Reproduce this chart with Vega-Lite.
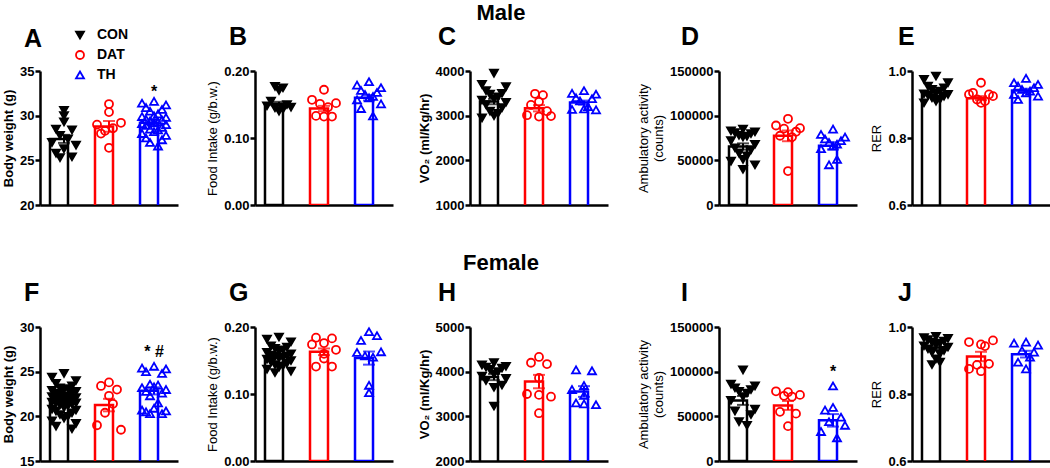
{
"$schema":"https://vega.github.io/schema/vega-lite/v6.json",
"padding":{"left":2,"top":2,"right":0,"bottom":0},
"background":"white",
"config":{
 "font":"Liberation Sans",
 "view":{"stroke":null},
 "range":{"category":["black","red","blue"],"symbol":["triangle-down","circle","triangle-up"]},
 "axis":{"grid":false,"domainColor":"black","domainWidth":2.5,"labelColor":"black","titleColor":"black","labelFont":"Liberation Sans","titleFont":"Liberation Sans"},
 "axisX":{"labels":false,"ticks":false},
 "axisY":{"tickColor":"black","tickWidth":2.5,"tickSize":5,"labelFontWeight":"bold","labelFontSize":13,"titleFontSize":13,"titleFontWeight":"normal","titlePadding":4,"labelPadding":1},
 "title":{"font":"Liberation Sans","fontWeight":"bold","color":"black","anchor":"start","frame":"group","fontSize":25,"offset":15}
},
"datasets":{
"sum":[
{"p":"A","g":"CON","v":27.4,"e":0.45},{"p":"A","g":"DAT","v":28.8,"e":0.6},{"p":"A","g":"TH","v":29.2,"e":0.3},
{"p":"B","g":"CON","v":0.151,"e":0.003},{"p":"B","g":"DAT","v":0.144,"e":0.004},{"p":"B","g":"TH","v":0.160,"e":0.004},
{"p":"C","g":"CON","v":3315,"e":60},{"p":"C","g":"DAT","v":3166,"e":70},{"p":"C","g":"TH","v":3293,"e":45},
{"p":"D","g":"CON","v":65500,"e":3500},{"p":"D","g":"DAT","v":77400,"e":6000},{"p":"D","g":"TH","v":66250,"e":4000},
{"p":"E","g":"CON","v":0.938,"e":0.005},{"p":"E","g":"DAT","v":0.919,"e":0.006},{"p":"E","g":"TH","v":0.942,"e":0.005},
{"p":"F","g":"CON","v":21.85,"e":0.22},{"p":"F","g":"DAT","v":21.26,"e":0.7},{"p":"F","g":"TH","v":22.85,"e":0.4},
{"p":"G","g":"CON","v":0.1556,"e":0.0025},{"p":"G","g":"DAT","v":0.163,"e":0.005},{"p":"G","g":"TH","v":0.1536,"e":0.0098},
{"p":"H","g":"CON","v":3880,"e":70},{"p":"H","g":"DAT","v":3778,"e":150},{"p":"H","g":"TH","v":3556,"e":120},
{"p":"I","g":"CON","v":67800,"e":5000},{"p":"I","g":"DAT","v":62200,"e":5000},{"p":"I","g":"TH","v":45500,"e":7000},
{"p":"J","g":"CON","v":0.939,"e":0.006},{"p":"J","g":"DAT","v":0.912,"e":0.014},{"p":"J","g":"TH","v":0.919,"e":0.01}
],
"sig":[
{"p":"A","g":"TH","v":32.05,"t":"*"},{"p":"F","g":"TH","v":26.6,"t":"* #"},{"p":"I","g":"TH","v":94100,"t":"*"}
],
"pts":[
{"p":"A","g":"CON","v":30.6,"s":3},{"p":"A","g":"CON","v":30.0,"s":3},{"p":"A","g":"CON","v":29.3,"s":3},{"p":"A","g":"CON","v":28.5,"s":1},{"p":"A","g":"CON","v":28.4,"s":5},{"p":"A","g":"CON","v":27.8,"s":2},{"p":"A","g":"CON","v":27.4,"s":4},{"p":"A","g":"CON","v":27.0,"s":0},{"p":"A","g":"CON","v":26.7,"s":6},{"p":"A","g":"CON","v":26.3,"s":3},{"p":"A","g":"CON","v":25.8,"s":1},{"p":"A","g":"CON","v":25.4,"s":5},{"p":"A","g":"CON","v":25.3,"s":2},
{"p":"A","g":"DAT","v":31.3,"s":3},{"p":"A","g":"DAT","v":30.4,"s":3},{"p":"A","g":"DAT","v":29.2,"s":6},{"p":"A","g":"DAT","v":29.0,"s":0},{"p":"A","g":"DAT","v":28.6,"s":4},{"p":"A","g":"DAT","v":28.3,"s":2},{"p":"A","g":"DAT","v":28.0,"s":1},{"p":"A","g":"DAT","v":26.4,"s":3},
{"p":"A","g":"TH","v":31.6,"s":3},{"p":"A","g":"TH","v":31.4,"s":0},{"p":"A","g":"TH","v":31.2,"s":6},{"p":"A","g":"TH","v":30.9,"s":1},{"p":"A","g":"TH","v":30.7,"s":5},{"p":"A","g":"TH","v":30.5,"s":2},{"p":"A","g":"TH","v":30.2,"s":4},{"p":"A","g":"TH","v":30.0,"s":3},{"p":"A","g":"TH","v":29.9,"s":0},{"p":"A","g":"TH","v":29.8,"s":6},{"p":"A","g":"TH","v":29.6,"s":1},{"p":"A","g":"TH","v":29.5,"s":5},{"p":"A","g":"TH","v":29.4,"s":2},{"p":"A","g":"TH","v":29.3,"s":4},{"p":"A","g":"TH","v":29.2,"s":3},{"p":"A","g":"TH","v":29.1,"s":0},{"p":"A","g":"TH","v":29.0,"s":6},{"p":"A","g":"TH","v":28.9,"s":1},{"p":"A","g":"TH","v":28.7,"s":5},{"p":"A","g":"TH","v":28.5,"s":2},{"p":"A","g":"TH","v":28.4,"s":4},{"p":"A","g":"TH","v":28.2,"s":3},{"p":"A","g":"TH","v":28.0,"s":0},{"p":"A","g":"TH","v":27.8,"s":6},{"p":"A","g":"TH","v":27.5,"s":1},{"p":"A","g":"TH","v":27.3,"s":5},{"p":"A","g":"TH","v":27.0,"s":2},{"p":"A","g":"TH","v":26.6,"s":4},
{"p":"B","g":"CON","v":0.177,"s":2},{"p":"B","g":"CON","v":0.175,"s":4},{"p":"B","g":"CON","v":0.171,"s":3},{"p":"B","g":"CON","v":0.155,"s":1},{"p":"B","g":"CON","v":0.150,"s":5},{"p":"B","g":"CON","v":0.148,"s":0},{"p":"B","g":"CON","v":0.146,"s":6},{"p":"B","g":"CON","v":0.145,"s":2},{"p":"B","g":"CON","v":0.143,"s":4},{"p":"B","g":"CON","v":0.140,"s":3},
{"p":"B","g":"DAT","v":0.172,"s":3},{"p":"B","g":"DAT","v":0.157,"s":0},{"p":"B","g":"DAT","v":0.152,"s":6},{"p":"B","g":"DAT","v":0.151,"s":2},{"p":"B","g":"DAT","v":0.146,"s":4},{"p":"B","g":"DAT","v":0.133,"s":1},{"p":"B","g":"DAT","v":0.132,"s":5},{"p":"B","g":"DAT","v":0.132,"s":3},
{"p":"B","g":"TH","v":0.184,"s":3},{"p":"B","g":"TH","v":0.179,"s":0},{"p":"B","g":"TH","v":0.175,"s":6},{"p":"B","g":"TH","v":0.171,"s":1},{"p":"B","g":"TH","v":0.168,"s":5},{"p":"B","g":"TH","v":0.165,"s":2},{"p":"B","g":"TH","v":0.162,"s":4},{"p":"B","g":"TH","v":0.160,"s":3},{"p":"B","g":"TH","v":0.157,"s":0},{"p":"B","g":"TH","v":0.151,"s":6},{"p":"B","g":"TH","v":0.144,"s":1},{"p":"B","g":"TH","v":0.133,"s":4},
{"p":"C","g":"CON","v":3950,"s":3},{"p":"C","g":"CON","v":3700,"s":0},{"p":"C","g":"CON","v":3650,"s":6},{"p":"C","g":"CON","v":3560,"s":1},{"p":"C","g":"CON","v":3500,"s":5},{"p":"C","g":"CON","v":3480,"s":2},{"p":"C","g":"CON","v":3420,"s":4},{"p":"C","g":"CON","v":3380,"s":3},{"p":"C","g":"CON","v":3350,"s":0},{"p":"C","g":"CON","v":3300,"s":6},{"p":"C","g":"CON","v":3250,"s":1},{"p":"C","g":"CON","v":3180,"s":5},{"p":"C","g":"CON","v":3100,"s":2},{"p":"C","g":"CON","v":3050,"s":4},{"p":"C","g":"CON","v":3000,"s":3},{"p":"C","g":"CON","v":2950,"s":0},
{"p":"C","g":"DAT","v":3490,"s":2},{"p":"C","g":"DAT","v":3460,"s":4},{"p":"C","g":"DAT","v":3310,"s":3},{"p":"C","g":"DAT","v":3240,"s":1},{"p":"C","g":"DAT","v":3100,"s":5},{"p":"C","g":"DAT","v":3010,"s":0},{"p":"C","g":"DAT","v":2990,"s":6},{"p":"C","g":"DAT","v":2980,"s":3},
{"p":"C","g":"TH","v":3560,"s":3},{"p":"C","g":"TH","v":3500,"s":0},{"p":"C","g":"TH","v":3480,"s":6},{"p":"C","g":"TH","v":3400,"s":1},{"p":"C","g":"TH","v":3380,"s":5},{"p":"C","g":"TH","v":3330,"s":2},{"p":"C","g":"TH","v":3200,"s":4},{"p":"C","g":"TH","v":3150,"s":3},{"p":"C","g":"TH","v":3140,"s":0},{"p":"C","g":"TH","v":3130,"s":6},
{"p":"D","g":"CON","v":85000,"s":3},{"p":"D","g":"CON","v":83000,"s":0},{"p":"D","g":"CON","v":82000,"s":6},{"p":"D","g":"CON","v":81000,"s":1},{"p":"D","g":"CON","v":80000,"s":5},{"p":"D","g":"CON","v":78000,"s":2},{"p":"D","g":"CON","v":77000,"s":4},{"p":"D","g":"CON","v":76000,"s":3},{"p":"D","g":"CON","v":72000,"s":0},{"p":"D","g":"CON","v":68000,"s":6},{"p":"D","g":"CON","v":64000,"s":1},{"p":"D","g":"CON","v":62000,"s":5},{"p":"D","g":"CON","v":58000,"s":2},{"p":"D","g":"CON","v":55000,"s":4},{"p":"D","g":"CON","v":51000,"s":3},{"p":"D","g":"CON","v":49000,"s":0},{"p":"D","g":"CON","v":45000,"s":6},{"p":"D","g":"CON","v":40000,"s":3},
{"p":"D","g":"DAT","v":96500,"s":3},{"p":"D","g":"DAT","v":89000,"s":0},{"p":"D","g":"DAT","v":86000,"s":6},{"p":"D","g":"DAT","v":85500,"s":2},{"p":"D","g":"DAT","v":82000,"s":5},{"p":"D","g":"DAT","v":77500,"s":1},{"p":"D","g":"DAT","v":76000,"s":4},{"p":"D","g":"DAT","v":38000,"s":3},
{"p":"D","g":"TH","v":85000,"s":3},{"p":"D","g":"TH","v":79000,"s":0},{"p":"D","g":"TH","v":76000,"s":6},{"p":"D","g":"TH","v":74000,"s":1},{"p":"D","g":"TH","v":72000,"s":5},{"p":"D","g":"TH","v":70000,"s":2},{"p":"D","g":"TH","v":68000,"s":4},{"p":"D","g":"TH","v":66000,"s":3},{"p":"D","g":"TH","v":63000,"s":0},{"p":"D","g":"TH","v":51000,"s":4},{"p":"D","g":"TH","v":45000,"s":2},
{"p":"E","g":"CON","v":0.985,"s":3},{"p":"E","g":"CON","v":0.975,"s":0},{"p":"E","g":"CON","v":0.965,"s":6},{"p":"E","g":"CON","v":0.955,"s":1},{"p":"E","g":"CON","v":0.95,"s":5},{"p":"E","g":"CON","v":0.945,"s":2},{"p":"E","g":"CON","v":0.94,"s":4},{"p":"E","g":"CON","v":0.935,"s":3},{"p":"E","g":"CON","v":0.932,"s":0},{"p":"E","g":"CON","v":0.93,"s":6},{"p":"E","g":"CON","v":0.928,"s":1},{"p":"E","g":"CON","v":0.925,"s":5},{"p":"E","g":"CON","v":0.92,"s":2},{"p":"E","g":"CON","v":0.915,"s":4},{"p":"E","g":"CON","v":0.91,"s":3},{"p":"E","g":"CON","v":0.905,"s":0},
{"p":"E","g":"DAT","v":0.965,"s":3},{"p":"E","g":"DAT","v":0.935,"s":1},{"p":"E","g":"DAT","v":0.93,"s":5},{"p":"E","g":"DAT","v":0.93,"s":0},{"p":"E","g":"DAT","v":0.925,"s":6},{"p":"E","g":"DAT","v":0.915,"s":2},{"p":"E","g":"DAT","v":0.91,"s":4},{"p":"E","g":"DAT","v":0.905,"s":3},
{"p":"E","g":"TH","v":0.978,"s":3},{"p":"E","g":"TH","v":0.965,"s":0},{"p":"E","g":"TH","v":0.96,"s":6},{"p":"E","g":"TH","v":0.955,"s":1},{"p":"E","g":"TH","v":0.95,"s":5},{"p":"E","g":"TH","v":0.945,"s":2},{"p":"E","g":"TH","v":0.94,"s":4},{"p":"E","g":"TH","v":0.935,"s":3},{"p":"E","g":"TH","v":0.93,"s":0},{"p":"E","g":"TH","v":0.925,"s":6},{"p":"E","g":"TH","v":0.915,"s":1},
{"p":"F","g":"CON","v":24.8,"s":3},{"p":"F","g":"CON","v":24.4,"s":0},{"p":"F","g":"CON","v":24.0,"s":6},{"p":"F","g":"CON","v":23.7,"s":1},{"p":"F","g":"CON","v":23.4,"s":5},{"p":"F","g":"CON","v":23.2,"s":2},{"p":"F","g":"CON","v":23.1,"s":4},{"p":"F","g":"CON","v":23.0,"s":3},{"p":"F","g":"CON","v":22.9,"s":0},{"p":"F","g":"CON","v":22.8,"s":6},{"p":"F","g":"CON","v":22.6,"s":1},{"p":"F","g":"CON","v":22.6,"s":5},{"p":"F","g":"CON","v":22.5,"s":2},{"p":"F","g":"CON","v":22.3,"s":4},{"p":"F","g":"CON","v":22.2,"s":3},{"p":"F","g":"CON","v":22.2,"s":0},{"p":"F","g":"CON","v":22.1,"s":6},{"p":"F","g":"CON","v":22.0,"s":1},{"p":"F","g":"CON","v":21.9,"s":5},{"p":"F","g":"CON","v":21.9,"s":2},{"p":"F","g":"CON","v":21.8,"s":4},{"p":"F","g":"CON","v":21.7,"s":3},{"p":"F","g":"CON","v":21.6,"s":0},{"p":"F","g":"CON","v":21.5,"s":6},{"p":"F","g":"CON","v":21.5,"s":1},{"p":"F","g":"CON","v":21.4,"s":5},{"p":"F","g":"CON","v":21.3,"s":2},{"p":"F","g":"CON","v":21.2,"s":4},{"p":"F","g":"CON","v":21.0,"s":3},{"p":"F","g":"CON","v":20.8,"s":0},{"p":"F","g":"CON","v":20.7,"s":6},{"p":"F","g":"CON","v":20.6,"s":1},{"p":"F","g":"CON","v":20.4,"s":5},{"p":"F","g":"CON","v":20.2,"s":2},{"p":"F","g":"CON","v":20.0,"s":4},{"p":"F","g":"CON","v":19.8,"s":3},{"p":"F","g":"CON","v":19.5,"s":0},{"p":"F","g":"CON","v":19.2,"s":6},{"p":"F","g":"CON","v":18.9,"s":1},{"p":"F","g":"CON","v":18.6,"s":5},
{"p":"F","g":"DAT","v":23.8,"s":3},{"p":"F","g":"DAT","v":23.4,"s":1},{"p":"F","g":"DAT","v":23.0,"s":5},{"p":"F","g":"DAT","v":22.3,"s":3},{"p":"F","g":"DAT","v":21.4,"s":4},{"p":"F","g":"DAT","v":20.4,"s":2},{"p":"F","g":"DAT","v":19.0,"s":0},{"p":"F","g":"DAT","v":18.5,"s":6},
{"p":"F","g":"TH","v":25.6,"s":3},{"p":"F","g":"TH","v":25.4,"s":0},{"p":"F","g":"TH","v":25.3,"s":6},{"p":"F","g":"TH","v":25.0,"s":1},{"p":"F","g":"TH","v":24.8,"s":5},{"p":"F","g":"TH","v":23.6,"s":2},{"p":"F","g":"TH","v":23.5,"s":4},{"p":"F","g":"TH","v":23.3,"s":3},{"p":"F","g":"TH","v":23.2,"s":0},{"p":"F","g":"TH","v":23.0,"s":6},{"p":"F","g":"TH","v":22.8,"s":1},{"p":"F","g":"TH","v":22.6,"s":5},{"p":"F","g":"TH","v":22.3,"s":2},{"p":"F","g":"TH","v":21.5,"s":4},{"p":"F","g":"TH","v":20.9,"s":3},{"p":"F","g":"TH","v":20.7,"s":0},{"p":"F","g":"TH","v":20.6,"s":6},{"p":"F","g":"TH","v":20.5,"s":1},{"p":"F","g":"TH","v":20.3,"s":5},{"p":"F","g":"TH","v":20.3,"s":2},
{"p":"G","g":"CON","v":0.185,"s":3},{"p":"G","g":"CON","v":0.182,"s":0},{"p":"G","g":"CON","v":0.178,"s":6},{"p":"G","g":"CON","v":0.172,"s":1},{"p":"G","g":"CON","v":0.170,"s":5},{"p":"G","g":"CON","v":0.168,"s":2},{"p":"G","g":"CON","v":0.166,"s":4},{"p":"G","g":"CON","v":0.164,"s":3},{"p":"G","g":"CON","v":0.162,"s":0},{"p":"G","g":"CON","v":0.160,"s":6},{"p":"G","g":"CON","v":0.158,"s":1},{"p":"G","g":"CON","v":0.157,"s":5},{"p":"G","g":"CON","v":0.156,"s":2},{"p":"G","g":"CON","v":0.155,"s":4},{"p":"G","g":"CON","v":0.154,"s":3},{"p":"G","g":"CON","v":0.152,"s":0},{"p":"G","g":"CON","v":0.150,"s":6},{"p":"G","g":"CON","v":0.148,"s":1},{"p":"G","g":"CON","v":0.146,"s":5},{"p":"G","g":"CON","v":0.144,"s":2},{"p":"G","g":"CON","v":0.142,"s":4},{"p":"G","g":"CON","v":0.140,"s":3},{"p":"G","g":"CON","v":0.137,"s":0},{"p":"G","g":"CON","v":0.134,"s":6},{"p":"G","g":"CON","v":0.132,"s":2},
{"p":"G","g":"DAT","v":0.184,"s":1},{"p":"G","g":"DAT","v":0.183,"s":5},{"p":"G","g":"DAT","v":0.176,"s":3},{"p":"G","g":"DAT","v":0.174,"s":0},{"p":"G","g":"DAT","v":0.166,"s":6},{"p":"G","g":"DAT","v":0.160,"s":3},{"p":"G","g":"DAT","v":0.153,"s":3},{"p":"G","g":"DAT","v":0.141,"s":1},{"p":"G","g":"DAT","v":0.141,"s":5},
{"p":"G","g":"TH","v":0.193,"s":3},{"p":"G","g":"TH","v":0.187,"s":5},{"p":"G","g":"TH","v":0.180,"s":1},{"p":"G","g":"TH","v":0.163,"s":6},{"p":"G","g":"TH","v":0.162,"s":0},{"p":"G","g":"TH","v":0.157,"s":2},{"p":"G","g":"TH","v":0.155,"s":4},{"p":"G","g":"TH","v":0.113,"s":3},{"p":"G","g":"TH","v":0.102,"s":3},
{"p":"H","g":"CON","v":4200,"s":3},{"p":"H","g":"CON","v":4150,"s":0},{"p":"H","g":"CON","v":4120,"s":6},{"p":"H","g":"CON","v":4100,"s":1},{"p":"H","g":"CON","v":4080,"s":5},{"p":"H","g":"CON","v":4050,"s":2},{"p":"H","g":"CON","v":4000,"s":4},{"p":"H","g":"CON","v":3950,"s":3},{"p":"H","g":"CON","v":3900,"s":0},{"p":"H","g":"CON","v":3850,"s":6},{"p":"H","g":"CON","v":3800,"s":1},{"p":"H","g":"CON","v":3700,"s":5},{"p":"H","g":"CON","v":3650,"s":3},{"p":"H","g":"CON","v":3230,"s":3},
{"p":"H","g":"DAT","v":4330,"s":3},{"p":"H","g":"DAT","v":4200,"s":1},{"p":"H","g":"DAT","v":4170,"s":5},{"p":"H","g":"DAT","v":3860,"s":3},{"p":"H","g":"DAT","v":3500,"s":0},{"p":"H","g":"DAT","v":3480,"s":3},{"p":"H","g":"DAT","v":3440,"s":6},{"p":"H","g":"DAT","v":3070,"s":3},
{"p":"H","g":"TH","v":4040,"s":1},{"p":"H","g":"TH","v":4020,"s":5},{"p":"H","g":"TH","v":3690,"s":3},{"p":"H","g":"TH","v":3600,"s":0},{"p":"H","g":"TH","v":3470,"s":3},{"p":"H","g":"TH","v":3300,"s":1},{"p":"H","g":"TH","v":3280,"s":3},{"p":"H","g":"TH","v":3260,"s":6},
{"p":"I","g":"CON","v":102000,"s":3},{"p":"I","g":"CON","v":86000,"s":0},{"p":"I","g":"CON","v":84000,"s":6},{"p":"I","g":"CON","v":82000,"s":1},{"p":"I","g":"CON","v":80000,"s":5},{"p":"I","g":"CON","v":78000,"s":2},{"p":"I","g":"CON","v":76000,"s":4},{"p":"I","g":"CON","v":72000,"s":3},{"p":"I","g":"CON","v":68000,"s":0},{"p":"I","g":"CON","v":58000,"s":6},{"p":"I","g":"CON","v":56000,"s":1},{"p":"I","g":"CON","v":52000,"s":5},{"p":"I","g":"CON","v":44000,"s":2},{"p":"I","g":"CON","v":40000,"s":4},
{"p":"I","g":"DAT","v":78000,"s":0},{"p":"I","g":"DAT","v":77000,"s":3},{"p":"I","g":"DAT","v":74000,"s":6},{"p":"I","g":"DAT","v":73000,"s":2},{"p":"I","g":"DAT","v":72000,"s":4},{"p":"I","g":"DAT","v":55000,"s":1},{"p":"I","g":"DAT","v":53000,"s":5},{"p":"I","g":"DAT","v":39000,"s":3},
{"p":"I","g":"TH","v":84000,"s":3},{"p":"I","g":"TH","v":60000,"s":3},{"p":"I","g":"TH","v":57000,"s":1},{"p":"I","g":"TH","v":49000,"s":5},{"p":"I","g":"TH","v":44000,"s":2},{"p":"I","g":"TH","v":40000,"s":6},{"p":"I","g":"TH","v":33000,"s":0},{"p":"I","g":"TH","v":26000,"s":4},
{"p":"J","g":"CON","v":0.972,"s":3},{"p":"J","g":"CON","v":0.968,"s":0},{"p":"J","g":"CON","v":0.966,"s":6},{"p":"J","g":"CON","v":0.962,"s":1},{"p":"J","g":"CON","v":0.958,"s":5},{"p":"J","g":"CON","v":0.955,"s":2},{"p":"J","g":"CON","v":0.952,"s":4},{"p":"J","g":"CON","v":0.948,"s":3},{"p":"J","g":"CON","v":0.944,"s":0},{"p":"J","g":"CON","v":0.94,"s":6},{"p":"J","g":"CON","v":0.935,"s":1},{"p":"J","g":"CON","v":0.93,"s":5},{"p":"J","g":"CON","v":0.925,"s":2},{"p":"J","g":"CON","v":0.92,"s":4},{"p":"J","g":"CON","v":0.905,"s":3},{"p":"J","g":"CON","v":0.895,"s":4},{"p":"J","g":"CON","v":0.888,"s":2},
{"p":"J","g":"DAT","v":0.96,"s":6},{"p":"J","g":"DAT","v":0.955,"s":0},{"p":"J","g":"DAT","v":0.948,"s":3},{"p":"J","g":"DAT","v":0.943,"s":4},{"p":"J","g":"DAT","v":0.89,"s":5},{"p":"J","g":"DAT","v":0.887,"s":2},{"p":"J","g":"DAT","v":0.875,"s":0},{"p":"J","g":"DAT","v":0.868,"s":3},
{"p":"J","g":"TH","v":0.955,"s":3},{"p":"J","g":"TH","v":0.952,"s":0},{"p":"J","g":"TH","v":0.946,"s":6},{"p":"J","g":"TH","v":0.93,"s":2},{"p":"J","g":"TH","v":0.925,"s":5},{"p":"J","g":"TH","v":0.91,"s":4},{"p":"J","g":"TH","v":0.895,"s":1},{"p":"J","g":"TH","v":0.875,"s":3}
]
},
"spacing":40,
"resolve":{"scale":{"x":"independent","y":"independent","color":"independent","stroke":"independent","fill":"independent","shape":"independent"},"legend":{"color":"independent","stroke":"independent","fill":"independent","shape":"independent"}},
"vconcat":[
{"title":{"text":"Male","anchor":"middle","fontSize":22,"dx":461,"offset":0},
 "bounds":"flush","spacing":0,
 "resolve":{"scale":{"x":"independent","y":"independent","color":"independent","stroke":"independent","fill":"independent","shape":"independent"},"legend":{"color":"independent","stroke":"independent","fill":"independent","shape":"independent"}},
 "hconcat":[
  {"width":215,"height":134,"title":{"text":"A","dx":-16,"offset":-24},
   "encoding":{"x":{"field":"g","type":"nominal","title":null,"scale":{"domain":["CON","DAT","TH"],"range":[0,138],"paddingInner":0.378,"paddingOuter":0.222}}},
   "layer":[
    {"data":{"name":"sum"},"transform":[{"filter":"datum.p==='A'"}],"mark":{"type":"bar","filled":false,"strokeWidth":2.5,"clip":true},
     "encoding":{"y":{"field":"v","type":"quantitative","title":"Body weight (g)","scale":{"domain":[20,35],"nice":false,"zero":false},"axis":{"values":[20,25,30,35],"format":"d","titleFontWeight":"bold"}},"color":{"field":"g","type":"nominal","legend":null}}},
    {"data":{"name":"sum"},"transform":[{"filter":"datum.p==='A'"}],"mark":{"type":"errorbar","ticks":{"size":12},"thickness":2},
     "encoding":{"y":{"field":"v","type":"quantitative","title":"Body weight (g)"},"yError":{"field":"e"},"color":{"field":"g","type":"nominal","legend":null}}},
    {"data":{"name":"pts"},"transform":[{"filter":"datum.p==='A'"}],"mark":{"type":"point","size":64,"strokeWidth":1.8,"opacity":1},
     "encoding":{"y":{"field":"v","type":"quantitative","title":"Body weight (g)"},"xOffset":{"field":"s","type":"nominal","scale":{"domain":[0,1,2,3,4,5,6]}},
      "stroke":{"field":"g","type":"nominal","legend":{"orient":"none","legendX":33,"legendY":-43,"title":null,"labelFontSize":14,"labelFontWeight":"bold","labelColor":"black","labelFont":"Liberation Sans","symbolSize":64,"symbolStrokeWidth":1.8,"rowPadding":4,"labelOffset":10}},
      "fill":{"field":"g","type":"nominal","scale":{"range":["black","transparent","transparent"]},"legend":{"orient":"none","legendX":33,"legendY":-43,"title":null,"labelFontSize":14,"labelFontWeight":"bold","labelColor":"black","labelFont":"Liberation Sans","symbolSize":64,"symbolStrokeWidth":1.8,"rowPadding":4,"labelOffset":10}},
      "shape":{"field":"g","type":"nominal","legend":{"orient":"none","legendX":33,"legendY":-43,"title":null,"labelFontSize":14,"labelFontWeight":"bold","labelColor":"black","labelFont":"Liberation Sans","symbolSize":64,"symbolStrokeWidth":1.8,"rowPadding":4,"labelOffset":10}}}},
    {"data":{"name":"sig"},"transform":[{"filter":"datum.p==='A'"}],"mark":{"type":"text","fontSize":16,"fontWeight":"bold","baseline":"alphabetic"},
     "encoding":{"y":{"field":"v","type":"quantitative","title":"Body weight (g)"},"text":{"field":"t"}}}
   ]},
  {"width":215,"height":134,"title":{"text":"B","dx":-26},
   "encoding":{"x":{"field":"g","type":"nominal","title":null,"scale":{"domain":["CON","DAT","TH"],"range":[0,138],"paddingInner":0.378,"paddingOuter":0.222}}},
   "layer":[
    {"data":{"name":"sum"},"transform":[{"filter":"datum.p==='B'"}],"mark":{"type":"bar","filled":false,"strokeWidth":2.5,"clip":true},
     "encoding":{"y":{"field":"v","type":"quantitative","title":"Food Intake (g/b.w.)","scale":{"domain":[0,0.2],"nice":false},"axis":{"values":[0,0.05,0.1,0.15,0.2],"format":".2f"}},"color":{"field":"g","type":"nominal","legend":null}}},
    {"data":{"name":"sum"},"transform":[{"filter":"datum.p==='B'"}],"mark":{"type":"errorbar","ticks":{"size":12},"thickness":2},
     "encoding":{"y":{"field":"v","type":"quantitative","title":"Food Intake (g/b.w.)"},"yError":{"field":"e"},"color":{"field":"g","type":"nominal","legend":null}}},
    {"data":{"name":"pts"},"transform":[{"filter":"datum.p==='B'"}],"mark":{"type":"point","size":64,"strokeWidth":1.8,"opacity":1},
     "encoding":{"y":{"field":"v","type":"quantitative","title":"Food Intake (g/b.w.)"},"xOffset":{"field":"s","type":"nominal","scale":{"domain":[0,1,2,3,4,5,6]}},
      "stroke":{"field":"g","type":"nominal","legend":null},"fill":{"field":"g","type":"nominal","scale":{"range":["black","transparent","transparent"]},"legend":null},"shape":{"field":"g","type":"nominal","legend":null}}}
   ]},
  {"width":249,"height":134,"title":{"text":"C","dx":-32},
   "encoding":{"x":{"field":"g","type":"nominal","title":null,"scale":{"domain":["CON","DAT","TH"],"range":[0,138],"paddingInner":0.378,"paddingOuter":0.222}}},
   "layer":[
    {"data":{"name":"sum"},"transform":[{"filter":"datum.p==='C'"}],"mark":{"type":"bar","filled":false,"strokeWidth":2.5,"clip":true},
     "encoding":{"y":{"field":"v","type":"quantitative","title":"VO₂ (ml/Kg/hr)","scale":{"domain":[1000,4000],"nice":false,"zero":false},"axis":{"values":[1000,2000,3000,4000],"format":"d","titleFontWeight":"bold"}},"color":{"field":"g","type":"nominal","legend":null}}},
    {"data":{"name":"sum"},"transform":[{"filter":"datum.p==='C'"}],"mark":{"type":"errorbar","ticks":{"size":12},"thickness":2},
     "encoding":{"y":{"field":"v","type":"quantitative","title":"VO₂ (ml/Kg/hr)"},"yError":{"field":"e"},"color":{"field":"g","type":"nominal","legend":null}}},
    {"data":{"name":"pts"},"transform":[{"filter":"datum.p==='C'"}],"mark":{"type":"point","size":64,"strokeWidth":1.8,"opacity":1},
     "encoding":{"y":{"field":"v","type":"quantitative","title":"VO₂ (ml/Kg/hr)"},"xOffset":{"field":"s","type":"nominal","scale":{"domain":[0,1,2,3,4,5,6]}},
      "stroke":{"field":"g","type":"nominal","legend":null},"fill":{"field":"g","type":"nominal","scale":{"range":["black","transparent","transparent"]},"legend":null},"shape":{"field":"g","type":"nominal","legend":null}}}
   ]},
  {"width":193,"height":134,"title":{"text":"D","dx":-38},
   "encoding":{"x":{"field":"g","type":"nominal","title":null,"scale":{"domain":["CON","DAT","TH"],"range":[0,138],"paddingInner":0.378,"paddingOuter":0.222}}},
   "layer":[
    {"data":{"name":"sum"},"transform":[{"filter":"datum.p==='D'"}],"mark":{"type":"bar","filled":false,"strokeWidth":2.5,"clip":true},
     "encoding":{"y":{"field":"v","type":"quantitative","title":["Ambulatory  activity","(counts)"],"scale":{"domain":[0,150000],"nice":false},"axis":{"values":[0,50000,100000,150000],"format":"d"}},"color":{"field":"g","type":"nominal","legend":null}}},
    {"data":{"name":"sum"},"transform":[{"filter":"datum.p==='D'"}],"mark":{"type":"errorbar","ticks":{"size":12},"thickness":2},
     "encoding":{"y":{"field":"v","type":"quantitative","title":["Ambulatory  activity","(counts)"]},"yError":{"field":"e"},"color":{"field":"g","type":"nominal","legend":null}}},
    {"data":{"name":"pts"},"transform":[{"filter":"datum.p==='D'"}],"mark":{"type":"point","size":64,"strokeWidth":1.8,"opacity":1},
     "encoding":{"y":{"field":"v","type":"quantitative","title":["Ambulatory  activity","(counts)"]},"xOffset":{"field":"s","type":"nominal","scale":{"domain":[0,1,2,3,4,5,6]}},
      "stroke":{"field":"g","type":"nominal","legend":null},"fill":{"field":"g","type":"nominal","scale":{"range":["black","transparent","transparent"]},"legend":null},"shape":{"field":"g","type":"nominal","legend":null}}}
   ]},
  {"width":138,"height":134,"title":{"text":"E","dx":-14},
   "encoding":{"x":{"field":"g","type":"nominal","title":null,"scale":{"domain":["CON","DAT","TH"],"range":[0,138],"paddingInner":0.378,"paddingOuter":0.222}}},
   "layer":[
    {"data":{"name":"sum"},"transform":[{"filter":"datum.p==='E'"}],"mark":{"type":"bar","filled":false,"strokeWidth":2.5,"clip":true},
     "encoding":{"y":{"field":"v","type":"quantitative","title":"RER","scale":{"domain":[0.6,1.0],"nice":false,"zero":false},"axis":{"values":[0.6,0.7,0.8,0.9,1.0],"format":".1f"}},"color":{"field":"g","type":"nominal","legend":null}}},
    {"data":{"name":"sum"},"transform":[{"filter":"datum.p==='E'"}],"mark":{"type":"errorbar","ticks":{"size":12},"thickness":2},
     "encoding":{"y":{"field":"v","type":"quantitative","title":"RER"},"yError":{"field":"e"},"color":{"field":"g","type":"nominal","legend":null}}},
    {"data":{"name":"pts"},"transform":[{"filter":"datum.p==='E'"}],"mark":{"type":"point","size":64,"strokeWidth":1.8,"opacity":1},
     "encoding":{"y":{"field":"v","type":"quantitative","title":"RER"},"xOffset":{"field":"s","type":"nominal","scale":{"domain":[0,1,2,3,4,5,6]}},
      "stroke":{"field":"g","type":"nominal","legend":null},"fill":{"field":"g","type":"nominal","scale":{"range":["black","transparent","transparent"]},"legend":null},"shape":{"field":"g","type":"nominal","legend":null}}}
   ]}
 ]},
{"title":{"text":"Female","anchor":"middle","fontSize":22,"dx":461,"offset":6},
 "bounds":"flush","spacing":0,
 "resolve":{"scale":{"x":"independent","y":"independent","color":"independent","stroke":"independent","fill":"independent","shape":"independent"},"legend":{"color":"independent","stroke":"independent","fill":"independent","shape":"independent"}},
 "hconcat":[
  {"width":215,"height":134,"title":{"text":"F","dx":-16},
   "encoding":{"x":{"field":"g","type":"nominal","title":null,"scale":{"domain":["CON","DAT","TH"],"range":[0,138],"paddingInner":0.378,"paddingOuter":0.222}}},
   "layer":[
    {"data":{"name":"sum"},"transform":[{"filter":"datum.p==='F'"}],"mark":{"type":"bar","filled":false,"strokeWidth":2.5,"clip":true},
     "encoding":{"y":{"field":"v","type":"quantitative","title":"Body weight (g)","scale":{"domain":[15,30],"nice":false,"zero":false},"axis":{"values":[15,20,25,30],"format":"d","titleFontWeight":"bold"}},"color":{"field":"g","type":"nominal","legend":null}}},
    {"data":{"name":"sum"},"transform":[{"filter":"datum.p==='F'"}],"mark":{"type":"errorbar","ticks":{"size":12},"thickness":2},
     "encoding":{"y":{"field":"v","type":"quantitative","title":"Body weight (g)"},"yError":{"field":"e"},"color":{"field":"g","type":"nominal","legend":null}}},
    {"data":{"name":"pts"},"transform":[{"filter":"datum.p==='F'"}],"mark":{"type":"point","size":64,"strokeWidth":1.8,"opacity":1},
     "encoding":{"y":{"field":"v","type":"quantitative","title":"Body weight (g)"},"xOffset":{"field":"s","type":"nominal","scale":{"domain":[0,1,2,3,4,5,6]}},
      "stroke":{"field":"g","type":"nominal","legend":null},"fill":{"field":"g","type":"nominal","scale":{"range":["black","transparent","transparent"]},"legend":null},"shape":{"field":"g","type":"nominal","legend":null}}},
    {"data":{"name":"sig"},"transform":[{"filter":"datum.p==='F'"}],"mark":{"type":"text","fontSize":16,"fontWeight":"bold","baseline":"alphabetic"},
     "encoding":{"y":{"field":"v","type":"quantitative","title":"Body weight (g)"},"text":{"field":"t"}}}
   ]},
  {"width":215,"height":134,"title":{"text":"G","dx":-26},
   "encoding":{"x":{"field":"g","type":"nominal","title":null,"scale":{"domain":["CON","DAT","TH"],"range":[0,138],"paddingInner":0.378,"paddingOuter":0.222}}},
   "layer":[
    {"data":{"name":"sum"},"transform":[{"filter":"datum.p==='G'"}],"mark":{"type":"bar","filled":false,"strokeWidth":2.5,"clip":true},
     "encoding":{"y":{"field":"v","type":"quantitative","title":"Food Intake (g/b.w.)","scale":{"domain":[0,0.2],"nice":false},"axis":{"values":[0,0.05,0.1,0.15,0.2],"format":".2f"}},"color":{"field":"g","type":"nominal","legend":null}}},
    {"data":{"name":"sum"},"transform":[{"filter":"datum.p==='G'"}],"mark":{"type":"errorbar","ticks":{"size":12},"thickness":2},
     "encoding":{"y":{"field":"v","type":"quantitative","title":"Food Intake (g/b.w.)"},"yError":{"field":"e"},"color":{"field":"g","type":"nominal","legend":null}}},
    {"data":{"name":"pts"},"transform":[{"filter":"datum.p==='G'"}],"mark":{"type":"point","size":64,"strokeWidth":1.8,"opacity":1},
     "encoding":{"y":{"field":"v","type":"quantitative","title":"Food Intake (g/b.w.)"},"xOffset":{"field":"s","type":"nominal","scale":{"domain":[0,1,2,3,4,5,6]}},
      "stroke":{"field":"g","type":"nominal","legend":null},"fill":{"field":"g","type":"nominal","scale":{"range":["black","transparent","transparent"]},"legend":null},"shape":{"field":"g","type":"nominal","legend":null}}}
   ]},
  {"width":249,"height":134,"title":{"text":"H","dx":-32},
   "encoding":{"x":{"field":"g","type":"nominal","title":null,"scale":{"domain":["CON","DAT","TH"],"range":[0,138],"paddingInner":0.378,"paddingOuter":0.222}}},
   "layer":[
    {"data":{"name":"sum"},"transform":[{"filter":"datum.p==='H'"}],"mark":{"type":"bar","filled":false,"strokeWidth":2.5,"clip":true},
     "encoding":{"y":{"field":"v","type":"quantitative","title":"VO₂ (ml/Kg/hr)","scale":{"domain":[2000,5000],"nice":false,"zero":false},"axis":{"values":[2000,3000,4000,5000],"format":"d","titleFontWeight":"bold"}},"color":{"field":"g","type":"nominal","legend":null}}},
    {"data":{"name":"sum"},"transform":[{"filter":"datum.p==='H'"}],"mark":{"type":"errorbar","ticks":{"size":12},"thickness":2},
     "encoding":{"y":{"field":"v","type":"quantitative","title":"VO₂ (ml/Kg/hr)"},"yError":{"field":"e"},"color":{"field":"g","type":"nominal","legend":null}}},
    {"data":{"name":"pts"},"transform":[{"filter":"datum.p==='H'"}],"mark":{"type":"point","size":64,"strokeWidth":1.8,"opacity":1},
     "encoding":{"y":{"field":"v","type":"quantitative","title":"VO₂ (ml/Kg/hr)"},"xOffset":{"field":"s","type":"nominal","scale":{"domain":[0,1,2,3,4,5,6]}},
      "stroke":{"field":"g","type":"nominal","legend":null},"fill":{"field":"g","type":"nominal","scale":{"range":["black","transparent","transparent"]},"legend":null},"shape":{"field":"g","type":"nominal","legend":null}}}
   ]},
  {"width":193,"height":134,"title":{"text":"I","dx":-38},
   "encoding":{"x":{"field":"g","type":"nominal","title":null,"scale":{"domain":["CON","DAT","TH"],"range":[0,138],"paddingInner":0.378,"paddingOuter":0.222}}},
   "layer":[
    {"data":{"name":"sum"},"transform":[{"filter":"datum.p==='I'"}],"mark":{"type":"bar","filled":false,"strokeWidth":2.5,"clip":true},
     "encoding":{"y":{"field":"v","type":"quantitative","title":["Ambulatory  activity","(counts)"],"scale":{"domain":[0,150000],"nice":false},"axis":{"values":[0,50000,100000,150000],"format":"d"}},"color":{"field":"g","type":"nominal","legend":null}}},
    {"data":{"name":"sum"},"transform":[{"filter":"datum.p==='I'"}],"mark":{"type":"errorbar","ticks":{"size":12},"thickness":2},
     "encoding":{"y":{"field":"v","type":"quantitative","title":["Ambulatory  activity","(counts)"]},"yError":{"field":"e"},"color":{"field":"g","type":"nominal","legend":null}}},
    {"data":{"name":"pts"},"transform":[{"filter":"datum.p==='I'"}],"mark":{"type":"point","size":64,"strokeWidth":1.8,"opacity":1},
     "encoding":{"y":{"field":"v","type":"quantitative","title":["Ambulatory  activity","(counts)"]},"xOffset":{"field":"s","type":"nominal","scale":{"domain":[0,1,2,3,4,5,6]}},
      "stroke":{"field":"g","type":"nominal","legend":null},"fill":{"field":"g","type":"nominal","scale":{"range":["black","transparent","transparent"]},"legend":null},"shape":{"field":"g","type":"nominal","legend":null}}},
    {"data":{"name":"sig"},"transform":[{"filter":"datum.p==='I'"}],"mark":{"type":"text","fontSize":16,"fontWeight":"bold","baseline":"alphabetic"},
     "encoding":{"y":{"field":"v","type":"quantitative","title":["Ambulatory  activity","(counts)"]},"text":{"field":"t"}}}
   ]},
  {"width":138,"height":134,"title":{"text":"J","dx":-14},
   "encoding":{"x":{"field":"g","type":"nominal","title":null,"scale":{"domain":["CON","DAT","TH"],"range":[0,138],"paddingInner":0.378,"paddingOuter":0.222}}},
   "layer":[
    {"data":{"name":"sum"},"transform":[{"filter":"datum.p==='J'"}],"mark":{"type":"bar","filled":false,"strokeWidth":2.5,"clip":true},
     "encoding":{"y":{"field":"v","type":"quantitative","title":"RER","scale":{"domain":[0.6,1.0],"nice":false,"zero":false},"axis":{"values":[0.6,0.7,0.8,0.9,1.0],"format":".1f"}},"color":{"field":"g","type":"nominal","legend":null}}},
    {"data":{"name":"sum"},"transform":[{"filter":"datum.p==='J'"}],"mark":{"type":"errorbar","ticks":{"size":12},"thickness":2},
     "encoding":{"y":{"field":"v","type":"quantitative","title":"RER"},"yError":{"field":"e"},"color":{"field":"g","type":"nominal","legend":null}}},
    {"data":{"name":"pts"},"transform":[{"filter":"datum.p==='J'"}],"mark":{"type":"point","size":64,"strokeWidth":1.8,"opacity":1},
     "encoding":{"y":{"field":"v","type":"quantitative","title":"RER"},"xOffset":{"field":"s","type":"nominal","scale":{"domain":[0,1,2,3,4,5,6]}},
      "stroke":{"field":"g","type":"nominal","legend":null},"fill":{"field":"g","type":"nominal","scale":{"range":["black","transparent","transparent"]},"legend":null},"shape":{"field":"g","type":"nominal","legend":null}}}
   ]}
 ]}
]
}
